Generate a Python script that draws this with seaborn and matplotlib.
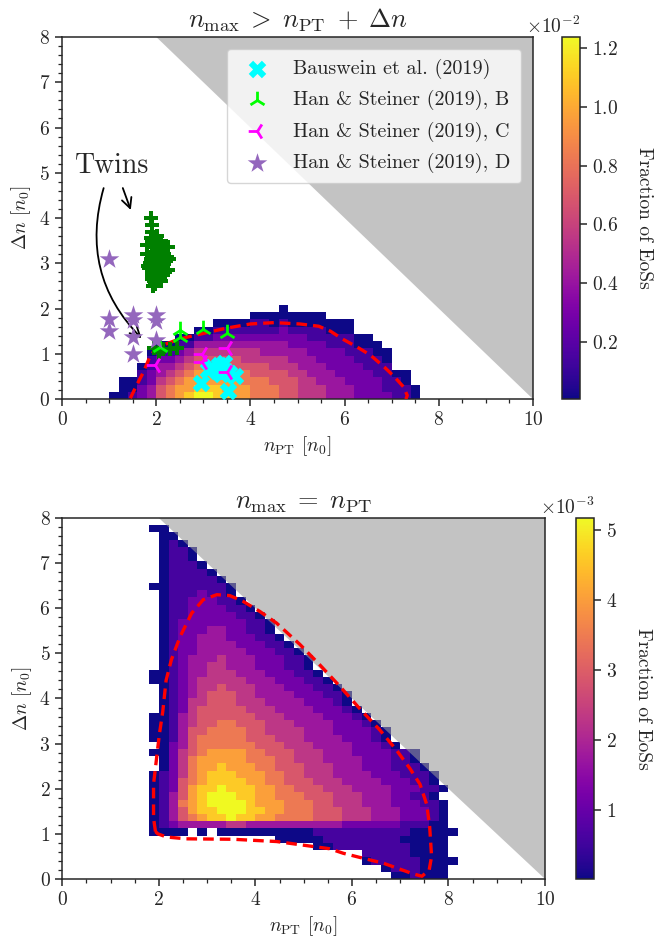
import numpy as np
import matplotlib
matplotlib.use("Agg")
import matplotlib.pyplot as plt
import seaborn as sns
from matplotlib.patches import Polygon
from matplotlib.ticker import MultipleLocator, ScalarFormatter

# ---------------------------------------------------------------
# 2D histograms, read off the picture as colour levels 0..9
# ("." = empty bin).  Bins are 0.2 wide in n_PT and 0.16 tall in
# Delta n; rows go from the top row down to the Delta n = 0 row.
# ---------------------------------------------------------------
TOP_VMAX = 1.238e-2
TOP_VMIN = 5e-5
TOP_FIRST_COL = 5      # first character of each row sits at n_PT = 1.0
TOP_ROWS = [
    "." * 18 + "0",
    "." * 15 + "00000000",
    "." * 11 + "000011010000000",
    "." * 9 + "00111111121111000",
    "." * 7 + "001122222222221111100",
    "." * 5 + "001133333333332222111000",
    "." * 4 + "01123444444433333222211100",
    "." * 4 + "12234555554444433322221110",
    "." * 3 + "013345666655554443332222111",
    "." * 3 + "12345677666655554433322221100",
    "." * 1 + "0012456777777666555443332222110",
    "." * 1 + "00235677888777666554443332221110",
    "001235678998877666554443332222110",
]

BOT_VMAX = 5.17e-3
BOT_VMIN = 1e-5
BOT_FIRST_COL = 9      # n_PT = 1.8
BOT_ROWS = [
    "00",
    ".00",
    ".010",
    ".0110",
    ".0110",
    ".01110",
    ".011110",
    ".0111110",
    "001111110",
    ".01112110",
    ".011222110",
    ".0112222110",
    ".01122222110",
    ".012222222110",
    ".012223322110",
    ".0122333222110",
    ".01223333222110",
    ".012233333222110",
    ".0123334333222110",
    ".0123344333222110",
    "001233444333222110",
    "0012344444333222110",
    ".0123445444333222110",
    ".01234555443333222110",
    ".01244555444333322210",
    ".012455555444333322210",
    "00134555555444333322210",
    "001345566555444333322210",
    "0013556666554444333222210",
    "0013566666555444333322210",
    ".0235666666555444333322210",
    "0024567777665554443332222110",
    ".024677777666554443333222110",
    ".0246778777665554443332221110",
    "012467888777665544433332221110",
    "012567888877665554443333222110",
    "0125788988877665554443333222110",
    "013578999887766655544433322110",
    "0136789999877766655444333222110",
    "0135788999887766655544433322210",
    "0135678898877666655544433322210",
    "0123333344333333333322222211100",
    "0000.0.000000" + "0000" + "1111111111" + "0000" + "0",
    "." * 13 + "000001111111100000",
    "." * 17 + "00111111110000",
    "." * 22 + "111110000",
    "." * 22 + "0111110000",
    "." * 24 + "0111000",
    "." * 25 + "001000",
]

# dashed red contours
TOP_CONTOUR_X = [1.45, 1.58, 1.73, 1.85, 1.95, 2.08, 2.5, 2.95, 3.5, 4.0, 4.5, 5.05,
                 5.45, 5.7, 5.95, 6.25, 6.55, 6.85, 7.05, 7.25, 7.33, 7.30]
TOP_CONTOUR_Y = [0.02, 0.3, 0.6, 0.9, 1.06, 1.17, 1.33, 1.44, 1.57, 1.66, 1.69, 1.66,
                 1.61, 1.5, 1.33, 1.16, 0.97, 0.7, 0.5, 0.27, 0.08, 0.0]

BOT_CONTOUR_X = [1.93, 1.89, 1.89, 1.95, 2.01, 2.08, 2.15, 2.26, 2.44, 2.68, 2.92, 3.2,
                 3.47, 3.75, 4.09, 4.44, 4.92, 5.33, 5.74, 6.2, 6.58, 6.92, 7.2, 7.41,
                 7.55, 7.61, 7.65, 7.6, 7.45, 7.25, 6.65, 6.23, 5.82, 5.54, 4.44, 3.54,
                 2.57, 2.16, 1.98, 1.93]
BOT_CONTOUR_Y = [1.05, 1.35, 2.1, 2.65, 3.2, 3.7, 4.4, 4.86, 5.37, 5.89, 6.19, 6.3,
                 6.28, 6.15, 5.93, 5.67, 5.2, 4.75, 4.28, 3.73, 3.3, 2.86, 2.45, 2.1,
                 1.65, 1.16, 0.5, 0.2, 0.06, 0.12, 0.35, 0.46, 0.57, 0.67, 0.83, 0.88,
                 0.89, 0.93, 1.0, 1.05]

# literature points
BAUS_X = [2.94, 3.1, 3.18, 3.28, 3.33, 3.38, 3.43, 3.47, 3.55, 3.68, 3.52]
BAUS_Y = [0.35, 0.65, 0.7, 0.62, 0.75, 0.55, 0.8, 0.62, 0.58, 0.52, 0.18]
HAN_B_X = [2.08, 2.5, 2.5, 3.0, 3.5]
HAN_B_Y = [1.15, 1.52, 1.38, 1.55, 1.45]
HAN_C_X = [1.98, 2.98, 2.98, 3.5, 3.5]
HAN_C_Y = [0.75, 1.0, 0.82, 1.12, 0.6]
HAN_D_X = [1.0, 1.0, 1.0, 1.5, 1.5, 1.5, 1.5, 2.0, 2.0, 2.0]
HAN_D_Y = [3.1, 1.78, 1.5, 1.85, 1.75, 1.38, 1.0, 1.85, 1.72, 1.3]
TWIN_X = [1.88, 1.9, 1.92, 1.88, 1.95, 2.0, 2.05, 1.9, 2.1, 1.95, 2.15, 2.02, 1.88,
          2.2, 2.08, 1.95, 2.12, 1.85, 2.0, 2.18, 1.92, 2.05, 1.9, 2.1, 1.98, 1.93,
          2.02, 2.1, 1.97, 2.15, 1.86, 2.06, 1.9, 2.22, 1.95,
          1.8, 2.28, 1.82, 2.26, 1.8, 2.25,
          1.95, 2.05, 2.15, 2.3, 2.45]
TWIN_Y = [4.0, 3.85, 3.7, 3.55, 3.5, 3.45, 3.4, 3.35, 3.3, 3.25, 3.2, 3.15, 3.1,
          3.05, 3.0, 2.95, 2.9, 2.9, 2.85, 2.8, 2.75, 2.7, 2.65, 2.62, 2.55, 2.5,
          3.6, 3.5, 3.05, 2.95, 3.0, 3.25, 2.8, 3.15, 2.6,
          3.2, 3.1, 2.95, 2.85, 3.4, 3.35,
          1.12, 1.05, 1.1, 1.1, 1.12]

X_EDGES = np.linspace(0, 10, 51)
Y_EDGES = np.linspace(0, 8, 51)


def decode(rows, first_col, vmin, vmax):
    grid = np.full((50, 50), np.nan)
    n = len(rows)
    for k, row in enumerate(rows):
        j = n - 1 - k
        for r, c in enumerate(row):
            if c != ".":
                grid[j, first_col + r] = vmin if c == "0" else int(c) / 9 * vmax
    return np.ma.masked_invalid(grid)


sns.set_style("ticks")
plt.rcParams["font.family"] = ["cmr10"]
plt.rcParams["mathtext.fontset"] = "cm"
plt.rcParams["axes.formatter.use_mathtext"] = True
plt.rcParams["axes.linewidth"] = 1.1

fig = plt.figure(figsize=(6.6, 9.48), dpi=100)
ax1 = fig.add_axes([0.094, 0.579, 0.7136, 0.382])
cax1 = fig.add_axes([0.8515, 0.579, 0.0273, 0.382])
ax2 = fig.add_axes([0.0944, 0.0728, 0.7314, 0.3808])
cax2 = fig.add_axes([0.8727, 0.0728, 0.0273, 0.3808])


def panel(ax, cax, rows, first_col, vmin, vmax, cx, cy, title):
    grid = decode(rows, first_col, vmin, vmax)
    mesh = ax.pcolormesh(X_EDGES, Y_EDGES, grid, cmap="plasma", vmin=vmin, vmax=vmax,
                         zorder=1)
    ax.add_patch(Polygon([[2, 8], [10, 0], [10, 8]], closed=True, facecolor="0.6",
                         alpha=0.58, edgecolor="none", zorder=2))
    ax.plot(cx, cy, color="red", lw=2.4, ls=(0, (3.2, 1.8)), zorder=3)
    ax.set_xlim(0, 10)
    ax.set_ylim(0, 8)
    ax.xaxis.set_major_locator(MultipleLocator(2))
    ax.xaxis.set_minor_locator(MultipleLocator(0.5))
    ax.yaxis.set_major_locator(MultipleLocator(1))
    ax.yaxis.set_minor_locator(MultipleLocator(0.2))
    ax.tick_params(which="major", length=5, width=1.1, labelsize=14)
    ax.tick_params(which="minor", length=3, width=0.9)
    ax.set_xlabel(r"$n_{\rm PT}$ $[n_0]$", fontsize=14)
    ax.set_ylabel(r"$\Delta n$ $[n_0]$", fontsize=14)
    ax.set_title(title, fontsize=19, pad=7)
    cb = fig.colorbar(mesh, cax=cax)
    fmt = ScalarFormatter(useMathText=True)
    fmt.set_powerlimits((0, 0))
    cb.formatter = fmt
    cb.update_ticks()
    cb.ax.tick_params(labelsize=14, length=5, width=1.1)
    cb.ax.yaxis.get_offset_text().set_fontsize(14)
    cb.set_label("Fraction of EoSs", rotation=270, labelpad=25, fontsize=14)
    cb.outline.set_linewidth(1.1)
    return mesh


panel(ax1, cax1, TOP_ROWS, TOP_FIRST_COL, TOP_VMIN, TOP_VMAX,
      TOP_CONTOUR_X, TOP_CONTOUR_Y, r"$n_{\rm max}\;>\;n_{\rm PT}\;+\;\Delta n$")
panel(ax2, cax2, BOT_ROWS, BOT_FIRST_COL, BOT_VMIN, BOT_VMAX,
      BOT_CONTOUR_X, BOT_CONTOUR_Y, r"$n_{\rm max}\;=\;n_{\rm PT}$")

# literature points on the top panel
sns.scatterplot(x=TWIN_X, y=TWIN_Y, marker="P", color="green", s=90, linewidth=0,
                ax=ax1, zorder=4)
sns.scatterplot(x=BAUS_X, y=BAUS_Y, marker="X", color="cyan", s=160, linewidth=0,
                ax=ax1, zorder=5, label="Bauswein et al. (2019)")
sns.scatterplot(x=HAN_B_X, y=HAN_B_Y, marker="2", color="lime", s=160, linewidth=2,
                ax=ax1, zorder=5, label="Han & Steiner (2019), B")
sns.scatterplot(x=HAN_C_X, y=HAN_C_Y, marker="3", color="magenta", s=160, linewidth=2,
                ax=ax1, zorder=5, label="Han & Steiner (2019), C")
sns.scatterplot(x=HAN_D_X, y=HAN_D_Y, marker="*", color="tab:purple", s=220, linewidth=0,
                ax=ax1, zorder=5, label="Han & Steiner (2019), D")
ax1.legend(loc="upper right", fontsize=14.5, framealpha=0.8, borderpad=0.5,
           handletextpad=0.8, labelspacing=0.55, borderaxespad=0.6)

ax1.text(0.28, 4.99, "Twins", fontsize=20, zorder=6)
ax1.annotate("", xy=(1.48, 4.12), xytext=(1.27, 4.72),
             arrowprops=dict(arrowstyle="->", color="k", lw=1.3, mutation_scale=18))
ax1.annotate("", xy=(1.73, 1.3), xytext=(0.9, 4.72),
             arrowprops=dict(arrowstyle="->", color="k", lw=1.3, mutation_scale=18,
                             connectionstyle="arc3,rad=0.3"))

fig.savefig("out.png", dpi=100)
